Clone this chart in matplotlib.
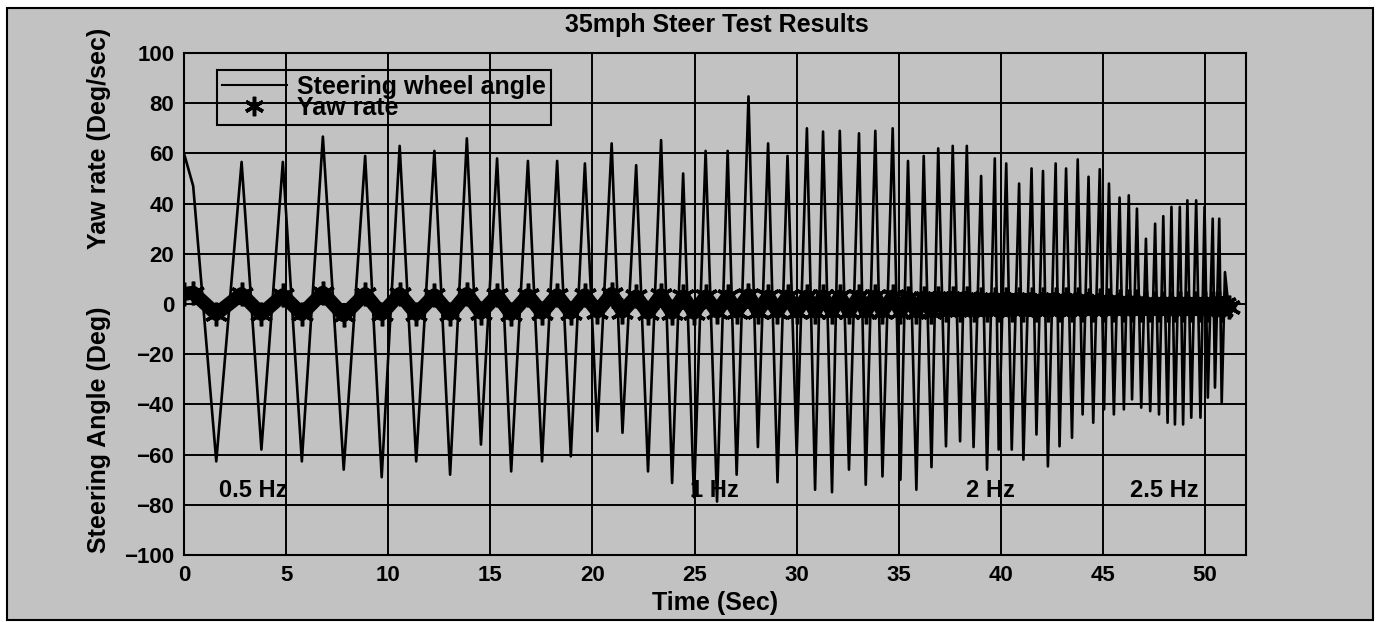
import numpy as np
import matplotlib
matplotlib.use("Agg")
import matplotlib.pyplot as plt
from matplotlib.lines import Line2D
from matplotlib.patches import Rectangle

plt.rcParams['font.family'] = ['Liberation Sans', 'DejaVu Sans']
plt.rcParams['font.weight'] = 'bold'

# ================== data ==================
# time of each turning point of the steering trace (sec)
time_s = [
    0.0, 0.45, 1.58, 2.82, 3.79, 4.84, 5.77, 6.8, 7.82, 8.87, 9.68, 10.56, 11.37, 12.26, 13.03,
    13.85, 14.54, 15.33, 16.02, 16.84, 17.53, 18.27, 18.94, 19.63, 20.24, 20.94, 21.47, 22.14,
    22.72, 23.36, 23.9, 24.44, 24.97, 25.54, 26.1, 26.62,
    27.06, 27.64, 28.1, 28.6, 29.06, 29.55, 30.0, 30.5, 30.9, 31.29, 31.73, 32.11, 32.56, 33.05,
    33.38, 33.85, 34.2, 34.7, 35.08, 35.45, 35.86, 36.22, 36.6, 36.93, 37.31, 37.64, 38.0, 38.33,
    38.66, 39.03, 39.32, 39.7,
    39.89, 40.26, 40.53, 40.89, 41.1, 41.5, 41.74, 42.06, 42.3, 42.68, 42.87, 43.19, 43.48, 43.76,
    44.0, 44.29, 44.52, 44.84, 45.05, 45.29, 45.53, 45.81, 46.02, 46.26, 46.42, 46.66, 46.87, 47.1,
    47.31, 47.55, 47.74, 47.95, 48.16, 48.35, 48.52, 48.76, 48.92, 49.13, 49.32, 49.56, 49.77,
    49.97, 50.13, 50.37, 50.48, 50.69, 50.81, 50.97, 51.15,
]

# steering wheel angle (deg)
steer_deg = [
    60, 47, -62.7, 56.6, -58, 56.6, -62.7, 66.7, -66, 59, -69, 63, -62.7, 61, -68,
    66, -56, 58, -66.7, 57, -62.7, 57, -60.7, 56, -50.7, 64, -51.3, 55.3,
    -66.7, 65.3, -71.3, 52, -77, 61, -78.7, 61,
    -68, 82.7, -57, 64, -71, 59, -60, 70, -74, 68.7, -75, 69, -66, 68,
    -72, 69, -68.7, 70, -70, 57, -74, 59, -65, 62, -56.7, 63, -54.7, 63,
    -57, 51, -66, 58,
    -58, 56, -58, 48, -62, 54, -52, 53, -64.7, 56, -56.7, 54, -53.3, 57.6,
    -44, 50.7, -47.3, 53.7, -42, 48, -44, 42.4, -42, 43.3, -38, 38, -41.3, 26,
    -42.7, 32, -44, 35, -47.3, 38.7, -48, 38.7, -48, 41.3, -45.3, 41.3, -45.3,
    38.7, -37.3, 34, -33.3, 34, -39.3, 12.7, -2,
]

# yaw rate (deg/sec) at the same instants
yaw_dps = [
    4, 4.5, -4, 4, -4, 3.5, -4, 4.5, -4.5, 4, -4, 4, -4, 3.5, -4,
    4, -3.5, 3.5, -4, 3.5, -3.5, 3.5, -3.5, 3.5, -3, 4, -3, 3,
    -3.5, 3.5, -3.5, 3, -3.5, 3, -3, 3,
    -3, 3.5, -3, 3, -3, 3, -3, 3, -3, 3, -3, 3, -3, 3,
    -3, 3, -3, 3, -3, 2.5, -3, 2.5, -3, 2.5, -2.5, 2.5, -2.5, 2.5,
    -2.5, 2, -2.5, 2,
    -2.5, 2, -2.5, 2, -2.5, 2, -2.5, 2, -2.5, 2, -2.5, 2, -2.5, 2,
    -2.5, 1.5, -2.5, 1.5, -2.5, 1.5, -2.5, 1, -2.5, 1, -2.5, 1, -2.5, 0.5,
    -2.5, 0.5, -2.5, 0.5, -2.5, 0.5, -2.5, 0.5, -2.5, 0.5, -2.5, 0.5, -2.5,
    0.5, -2.5, 0.5, -2.5, 0.5, -2.5, 0, -1,
]

freq_labels = ['0.5 Hz', '1 Hz', '2 Hz', '2.5 Hz']
freq_label_t = [1.7, 24.8, 38.3, 46.3]

x_ticks = [0, 5, 10, 15, 20, 25, 30, 35, 40, 45, 50]
y_ticks = [-100, -80, -60, -40, -20, 0, 20, 40, 60, 80, 100]

# ================== plot ==================
W, H = 1380, 622
bg = '#c2c2c2'
asterisk = (6, 2, 0)

fig = plt.figure(figsize=(W / 100, H / 100), dpi=100, facecolor='white')
fig.patches.append(Rectangle((7 / W, 1 - 620 / H), (1373 - 7) / W, (620 - 8) / H,
                             transform=fig.transFigure, facecolor=bg,
                             edgecolor='black', linewidth=1.5, zorder=-10))

ax = fig.add_axes([184 / W, 1 - 555 / H, (1246 - 184) / W, (555 - 53) / H])
ax.set_facecolor(bg)

ax.plot(time_s, yaw_dps, color='black', linewidth=10, marker=asterisk,
        markersize=17, markeredgewidth=2.5, zorder=3)
ax.plot(time_s, steer_deg, color='black', linewidth=1.9, zorder=4)

ax.set_xlim(0, 52)
ax.set_ylim(-100, 100)
ax.set_xticks(x_ticks)
ax.set_yticks(y_ticks)
ax.grid(True, color='black', linewidth=1.4)
ax.set_axisbelow(True)
ax.tick_params(length=0, labelsize=16, pad=7)
for sp in ax.spines.values():
    sp.set_linewidth(1.5)

for lab, t in zip(freq_labels, freq_label_t):
    ax.text(t, -74.5, lab, fontsize=17, va='center', ha='left')

handles = [
    Line2D([], [], color='black', linewidth=1.5),
    Line2D([], [], color='black', linestyle='none', marker=asterisk,
           markersize=14, markeredgewidth=2.5),
]
leg = ax.legend(handles, ['Steering wheel angle', 'Yaw rate'], loc='upper left',
                bbox_to_anchor=(0.031, 0.967), borderaxespad=0, fontsize=18,
                labelspacing=-0.1, handlelength=2.6, handletextpad=0.4,
                borderpad=0.2, fancybox=False, facecolor='none',
                edgecolor='black', framealpha=1)
leg.get_frame().set_linewidth(1.5)

fig.text(717 / W, 1 - 25 / H, '35mph Steer Test Results', fontsize=18,
         ha='center', va='center')
fig.text(715 / W, 1 - 603 / H, 'Time (Sec)', fontsize=18, ha='center', va='center')
fig.text(99 / W, 1 - 430 / H, 'Steering Angle (Deg)', fontsize=18,
         rotation=90, ha='center', va='center')
fig.text(99 / W, 1 - 138 / H, 'Yaw rate (Deg/sec)', fontsize=18,
         rotation=90, ha='center', va='center')

fig.savefig('out.png', dpi=100, facecolor=fig.get_facecolor())
